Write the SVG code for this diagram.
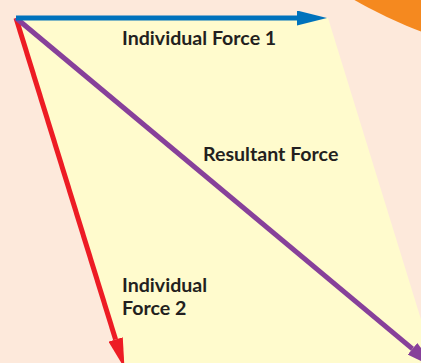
<svg xmlns="http://www.w3.org/2000/svg" width="421" height="363" viewBox="0 0 421 363">
  <style>
    .lbl { font-family: "Lato", "Liberation Sans", sans-serif; font-weight: bold; font-size: 19.6px; fill: #231f20; }
    .vec { fill: none; stroke-width: 5; stroke-linecap: butt; }
  </style>
  <defs>
    <marker id="ahBlue" markerUnits="userSpaceOnUse" markerWidth="30" markerHeight="15" refX="0" refY="7.5" orient="auto">
      <path d="M0,0 L30,7.5 L0,15 Z" fill="#0072bc"/>
    </marker>
    <marker id="ahRed" markerUnits="userSpaceOnUse" markerWidth="30" markerHeight="15" refX="0" refY="7.5" orient="auto">
      <path d="M0,0 L30,7.5 L0,15 Z" fill="#ed1c24"/>
    </marker>
    <marker id="ahPurple" markerUnits="userSpaceOnUse" markerWidth="30" markerHeight="15" refX="0" refY="7.5" orient="auto">
      <path d="M0,0 L30,7.5 L0,15 Z" fill="#87409a"/>
    </marker>
  </defs>
  <rect id="background" x="0" y="0" width="421" height="363" fill="#fde9db"/>
  <circle id="orange-disc" cx="574" cy="-379" r="438" fill="#f5891f"/>
  <polygon id="parallelogram" points="16,18 328,18 436,368 124,368" fill="#fffbcd"/>
  <g id="connectors">
    <path id="force2" class="vec" stroke="#ed1c24" d="M16,18 L115.6,339.4" marker-end="url(#ahRed)"/>
    <path id="resultant" class="vec" stroke="#87409a" d="M16,18 L412.5,348.8" marker-end="url(#ahPurple)"/>
    <path id="force1" class="vec" stroke="#0072bc" d="M16,18 L297,18" marker-end="url(#ahBlue)"/>
  </g>
  <g id="label-force1">
    <text class="lbl" x="122" y="45">Individual Force 1</text>
  </g>
  <g id="label-resultant">
    <text class="lbl" x="203" y="161">Resultant Force</text>
  </g>
  <g id="label-force2">
    <text class="lbl" x="122" y="292">Individual</text>
    <text class="lbl" x="122" y="315">Force 2</text>
  </g>
</svg>
